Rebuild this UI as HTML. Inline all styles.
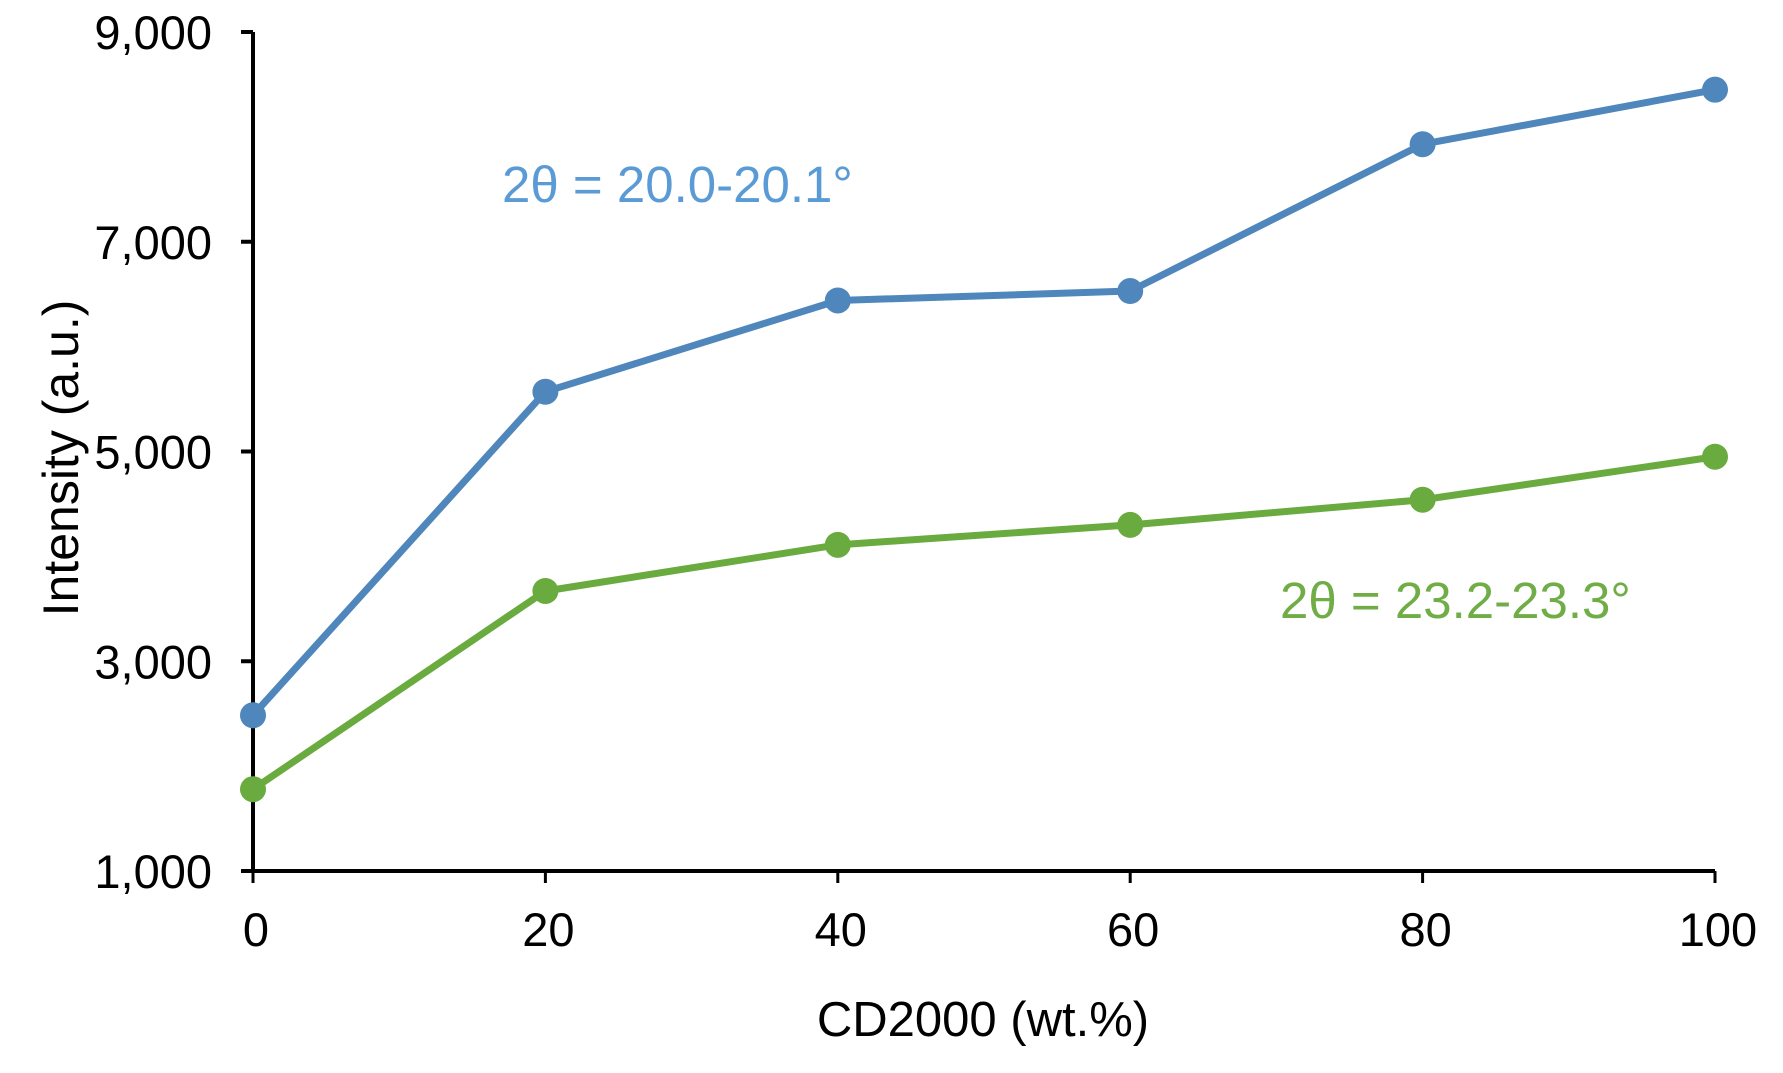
<!DOCTYPE html>
<html><head><meta charset="utf-8"><style>
html,body{margin:0;padding:0;background:#fff;}
svg{display:block;font-family:"Liberation Sans",Arial,sans-serif;}
</style></head><body>
<svg id="chart" width="1783" height="1073" viewBox="0 0 1783 1073">
<g id="axes"></g><g id="series"></g>
</svg>
<script>
const categories = [0, 20, 40, 60, 80, 100];
const seriesBlue = [2485, 5570, 6440, 6530, 7930, 8450];
const seriesGreen = [1780, 3670, 4110, 4300, 4540, 4950];
const yTicks = [1000, 3000, 5000, 7000, 9000];
const yTickLabels = ["1,000", "3,000", "5,000", "7,000", "9,000"];
const xTickLabels = ["0", "20", "40", "60", "80", "100"];

const NS = "http://www.w3.org/2000/svg";
const x0 = 253, x1 = 1715, yTop = 32, yBot = 871;
const xs = v => x0 + (v - 0) / 100 * (x1 - x0);
const ys = v => yBot - (v - 1000) / 8000 * (yBot - yTop);
function mk(tag, attrs, parent, text) {
  const e = document.createElementNS(NS, tag);
  for (const k in attrs) e.setAttribute(k, attrs[k]);
  if (text !== undefined) e.textContent = text;
  parent.appendChild(e);
  return e;
}
const axes = document.getElementById("axes");
const ser = document.getElementById("series");

let e = mk("line", {x1: x0, y1: yTop, x2: x0, y2: yBot, stroke: "#000", "stroke-width": 4}, axes);


e = mk("line", {x1: x0 - 12, y1: yBot, x2: x1, y2: yBot, stroke: "#000", "stroke-width": 4}, axes);



yTicks.forEach((t, i) => {
  const y = ys(t);
  let tk = mk("line", {x1: x0 - 12, y1: y, x2: x0, y2: y, stroke: "#000", "stroke-width": 4}, axes);
  
  
  let lb = mk("text", {x: 212, y: y + 17, "text-anchor": "end", "font-size": 47, fill: "#000"}, axes, yTickLabels[i]);
  
  
});
categories.forEach((c, i) => {
  const x = xs(c);
  let tk = mk("line", {x1: x, y1: yBot, x2: x, y2: yBot + 12, stroke: "#000", "stroke-width": 3}, axes);
  
  
  let lb = mk("text", {x: x + 3, y: 946, "text-anchor": "middle", "font-size": 47, fill: "#000"}, axes, xTickLabels[i]);
  
  
});
e = mk("text", {x: 983, y: 1036, "text-anchor": "middle", "font-size": 49, fill: "#000", "xml:space": "preserve"}, axes, "CD2000  (wt.%)");


e = mk("text", {x: 0, y: 0, "text-anchor": "middle", "font-size": 50, fill: "#000", transform: "translate(78,458) rotate(-90)"}, axes, "Intensity (a.u.)");



function drawSeries(vals, color, name) {
  const pts = vals.map((v, i) => xs(categories[i]) + "," + ys(v)).join(" ");
  let pl = mk("polyline", {points: pts, fill: "none", stroke: color, "stroke-width": 7, "stroke-linejoin": "round"}, ser);
  
  
  vals.forEach((v, i) => {
    let c = mk("circle", {cx: xs(categories[i]), cy: ys(v), r: 13, fill: color}, ser);
    
    
  });
}
drawSeries(seriesBlue, "#4f86bb", "blue-series");
drawSeries(seriesGreen, "#6aab3f", "green-series");

e = mk("text", {x: 502, y: 202, "font-size": 51, fill: "#5b9bd5"}, ser, "2θ = 20.0-20.1°");


e = mk("text", {x: 1280, y: 618, "font-size": 51, fill: "#70ad47"}, ser, "2θ = 23.2-23.3°");


</script>
</body></html>
